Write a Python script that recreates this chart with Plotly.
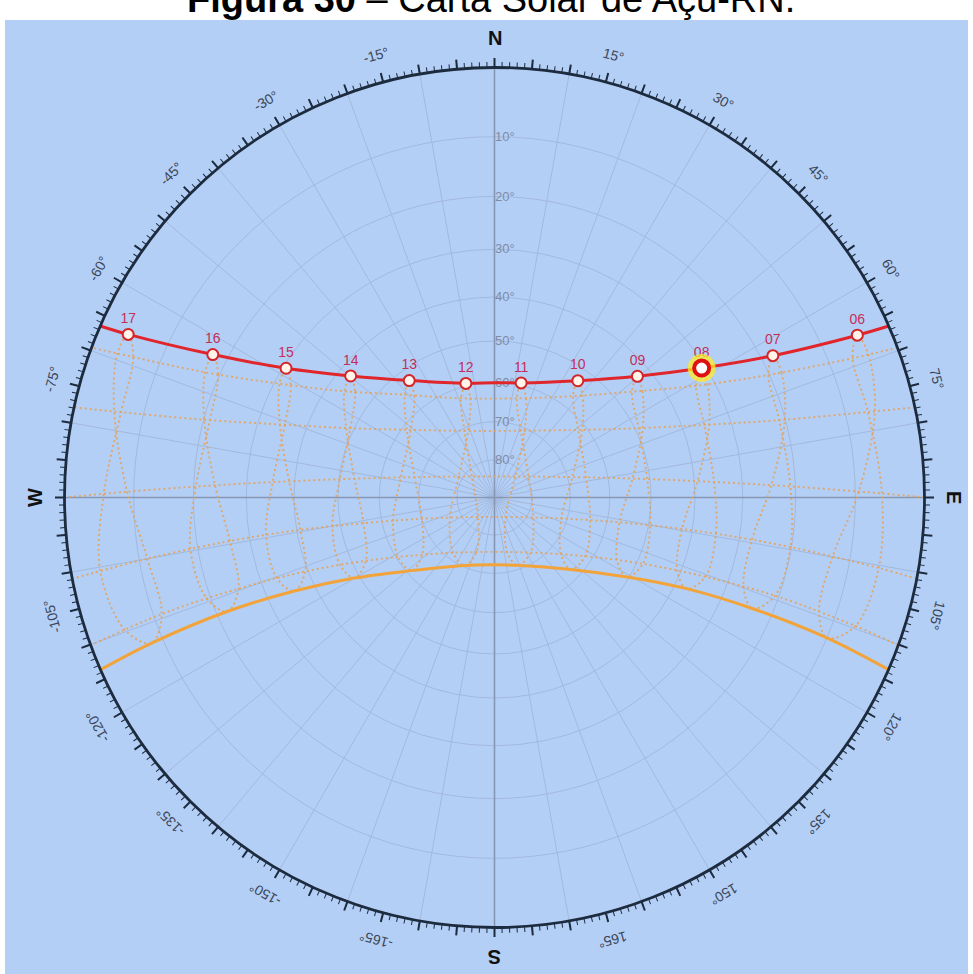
import math
import plotly.graph_objects as go

# ---------------- figure geometry (pixels) ----------------
W, H = 973, 974
CX, CY, R = 494.5, 497.5, 430.0   # centre and radius of the horizon circle

BG = "#b4cff6"
GRID = "#a3b9dc"
RING = "#1d2b3e"
AXIS = "#8796b2"
RED = "#e0262b"
ORANGE = "#f2a33a"
DOTS = "rgba(228,162,90,0.9)"
HOUR_TXT = "#c2305a"
FONT = "Liberation Sans, Arial, sans-serif"

# ---------------- data ----------------
HOURS = ["06", "07", "08", "09", "10", "11", "12", "13", "14", "15", "16", "17"]
CURRENT_HOUR = "08"

# Sun azimuth (deg, clockwise from N, E positive) and altitude (deg) at each clock hour
JUN_AZ = [65.9, 63.0, 58.0, 49.7, 35.5, 13.1, -14.1, -36.1, -49.8, -58.2, -63.1, -66.0]
JUN_ALT = [4.5, 18.0, 30.8, 42.9, 53.1, 59.4, 59.4, 52.8, 42.7, 30.6, 17.4, 4.0]
JUL_AZ = [69.05, 66.5, 61.9, 54.3, 40.6, 17.65, -13.7, -38.3, -52.8, -61.2, -66.0, -68.8]
JUL_ALT = [4.1, 17.9, 31.4, 44.1, 55.1, 62.8, 63.3, 56.5, 45.7, 33.2, 19.75, 5.96]
AUG_AZ = [77.25, 75.0, 71.2, 64.9, 52.35, 24.3, -21.6, -51.1, -64.3, -70.9, -74.8, -77.1]
AUG_ALT = [5.6, 20.1, 34.4, 48.3, 61.1, 70.7, 71.05, 61.9, 49.2, 35.4, 21.1, 6.6]
SEP_AZ = [89.06, 87.45, 85.4, 82.2, 75.4, 44.6, -59.7, -77.9, -83.25, -86.0, -87.9, -89.45]
SEP_ALT = [9.45, 24.4, 39.3, 54.1, 68.8, 82.1, 79.0, 64.9, 50.2, 35.3, 20.4, 5.47]
OCT_AZ = [99.9, 99.3, 99.55, 101.4, 107.4, 150.5, -114.4, -102.8, -100.0, -99.3, -99.6, -100.5]
OCT_ALT = [12.8, 27.5, 42.3, 57.0, 71.5, 84.0, 77.0, 62.8, 48.1, 33.4, 18.7, 4.0]
NOV_AZ = [109.3, 109.7, 111.8, 117.3, 130.4, 167.0, -143.2, -121.6, -113.7, -110.4, -109.3, -109.7]
NOV_ALT = [12.7, 26.8, 40.8, 54.4, 67.0, 75.2, 71.75, 60.5, 47.2, 33.3, 19.3, 5.2]
DEC_AZ = [112.9, 113.3, 115.4, 121.0, 133.3, 161.3, -156.2, -131.3, -119.9, -115.05, -113.1, -113.0]
DEC_ALT = [10.0, 23.75, 37.4, 50.5, 62.6, 71.1, 70.4, 61.1, 48.8, 35.6, 21.9, 8.2]
JAN_AZ = [109.6, 109.3, 110.6, 114.1, 122.9, 146.9, -161.8, -128.35, -116.2, -111.35, -109.6, -109.3]
JAN_ALT = [6.6, 20.7, 34.7, 48.6, 61.8, 72.6, 74.8, 65.8, 53.1, 39.4, 25.4, 11.3]
FEB_AZ = [100.4, 99.5, 99.3, 100.1, 103.3, 117.25, -139.7, -106.3, -101.1, -99.45, -99.35, -100.0]
FEB_ALT = [5.5, 20.2, 34.9, 49.6, 64.25, 78.4, 83.2, 70.0, 55.5, 40.8, 26.1, 11.3]
MAR_AZ = [89.4, 87.85, 85.95, 83.1, 77.6, 58.4, -47.1, -75.7, -82.35, -85.5, -87.5, -89.1]
MAR_ALT = [5.97, 20.9, 35.8, 50.65, 65.4, 79.4, 81.8, 68.3, 53.6, 38.8, 23.9, 8.96]
APR_AZ = [77.1, 74.8, 70.9, 64.3, 51.1, 21.6, -24.3, -52.35, -64.9, -71.2, -75.0, -77.25]
APR_ALT = [6.6, 21.1, 35.4, 49.2, 61.9, 71.05, 70.7, 61.1, 48.3, 34.4, 20.1, 5.6]
MAY_AZ = [68.75, 65.9, 61.0, 52.4, 37.8, 12.66, -18.6, -41.1, -54.7, -62.1, -66.6, -69.1]
MAY_ALT = [6.43, 20.2, 33.6, 46.06, 56.8, 63.4, 62.63, 54.8, 43.7, 31.0, 17.5, 3.6]

# azimuth where each path meets the horizon, and noon altitude of the two solstice paths
JUN_RISE_AZ, JUN_NOON_ALT = 66.5, 60.1
DEC_RISE_AZ, DEC_NOON_ALT = 113.6, 72.2
DATE_LINE_RISE_AZ = [110.1, 100.9, 90.0, 77.9, 69.6]   # Jan, Feb, Mar, Apr, May rows

ALT_RINGS = [10, 20, 30, 40, 50, 60, 70, 80]
AZ_LABELS = [15, 30, 45, 60, 75, 105, 120, 135, 150, 165,
             -15, -30, -45, -60, -75, -105, -120, -135, -150, -165]
COMPASS = [("N", 0), ("E", 90), ("S", 180), ("W", -90)]
TITLE = "<b>Figura 30</b> – Carta Solar de Açu-RN."


def sr(alts):
    """stereographic radial coordinate (horizon = 1)"""
    return [math.tan(math.radians(90.0 - a) / 2.0) for a in alts]


fig = go.Figure()
common = dict(hoverinfo="skip", showlegend=False)

# N-S and E-W axes
for th in ([0, 180], [90, 270]):
    fig.add_trace(go.Scatterpolar(r=[1, 1], theta=th, mode="lines",
                                  line=dict(color=AXIS, width=1.6), **common))

dotted = dict(color=DOTS, width=1.9, dash="2px,3px", shape="spline", smoothing=1.0)

# monthly date lines
rows = [(JAN_AZ, JAN_ALT), (FEB_AZ, FEB_ALT), (MAR_AZ, MAR_ALT), (APR_AZ, APR_ALT), (MAY_AZ, MAY_ALT)]
for (az, alt), rise in zip(rows, DATE_LINE_RISE_AZ):
    fig.add_trace(go.Scatterpolar(theta=[rise] + az + [-rise], r=sr([0] + alt + [0]),
                                  mode="lines", line=dotted, **common))

# hour lines (analemmas)
loop = [(JUN_AZ, JUN_ALT), (JUL_AZ, JUL_ALT), (AUG_AZ, AUG_ALT), (SEP_AZ, SEP_ALT),
        (OCT_AZ, OCT_ALT), (NOV_AZ, NOV_ALT), (DEC_AZ, DEC_ALT), (JAN_AZ, JAN_ALT),
        (FEB_AZ, FEB_ALT), (MAR_AZ, MAR_ALT), (APR_AZ, APR_ALT), (MAY_AZ, MAY_ALT),
        (JUN_AZ, JUN_ALT)]
for i in range(len(HOURS)):
    th = [m[0][i] for m in loop]
    al = [m[1][i] for m in loop]
    fig.add_trace(go.Scatterpolar(theta=th, r=sr(al), mode="lines", line=dotted, **common))

# December solstice path
fig.add_trace(go.Scatterpolar(
    theta=[DEC_RISE_AZ] + DEC_AZ[:6] + [180] + DEC_AZ[6:] + [-DEC_RISE_AZ],
    r=sr([0] + DEC_ALT[:6] + [DEC_NOON_ALT] + DEC_ALT[6:] + [0]),
    mode="lines", line=dict(color=ORANGE, width=3, shape="spline"), **common))

# current day path (June)
fig.add_trace(go.Scatterpolar(
    theta=[JUN_RISE_AZ] + JUN_AZ[:6] + [0] + JUN_AZ[6:] + [-JUN_RISE_AZ],
    r=sr([0] + JUN_ALT[:6] + [JUN_NOON_ALT] + JUN_ALT[6:] + [0]),
    mode="lines", line=dict(color=RED, width=3, shape="spline"), **common))

# hour markers
fig.add_trace(go.Scatterpolar(
    theta=JUN_AZ, r=sr(JUN_ALT), mode="markers+text", text=HOURS, textposition="top center",
    textfont=dict(color=HOUR_TXT, size=14, family=FONT),
    marker=dict(size=11, color="#fff3ea", line=dict(color="#d3262a", width=2)), **common))

ci = HOURS.index(CURRENT_HOUR)
fig.add_trace(go.Scatterpolar(theta=[JUN_AZ[ci]], r=sr([JUN_ALT[ci]]), mode="markers",
                              marker=dict(size=28, color="rgba(255,236,40,0.75)"), **common))
fig.add_trace(go.Scatterpolar(theta=[JUN_AZ[ci]], r=sr([JUN_ALT[ci]]), mode="markers",
                              marker=dict(size=15, color="#ffffff", line=dict(color="#e01010", width=4)),
                              **common))

# invisible traces so that the tick-only overlays are drawn
for sp in ("polar2", "polar3"):
    fig.add_trace(go.Scatterpolar(r=[0], theta=[0], mode="markers", marker=dict(opacity=0),
                                  subplot=sp, **common))

dom = dict(x=[(CX - R) / W, (CX + R) / W], y=[1 - (CY + R) / H, 1 - (CY - R) / H])
ang_base = dict(rotation=90, direction="clockwise", tickmode="array")

fig.update_layout(
    width=W, height=H, margin=dict(l=0, r=0, t=0, b=0),
    paper_bgcolor="white", showlegend=False,
    polar=dict(
        domain=dom, bgcolor=BG,
        angularaxis=dict(**ang_base, tickvals=list(range(0, 360, 10)), showticklabels=False,
                         ticks="", showgrid=True, gridcolor=GRID, gridwidth=1,
                         showline=True, linecolor=RING, linewidth=2.8),
        radialaxis=dict(range=[0, 1], tickmode="array", tickvals=sr(ALT_RINGS),
                        ticktext=[f"{a}°" for a in ALT_RINGS], showgrid=True, gridcolor=GRID,
                        gridwidth=1, showline=False, ticks="", angle=90, tickangle=90,
                        layer="below traces",
                        tickfont=dict(color="#7e8ca6", size=13, family=FONT)),
    ),
    polar2=dict(
        domain=dom, bgcolor="rgba(0,0,0,0)",
        angularaxis=dict(**ang_base, tickvals=list(range(0, 360, 1)), ticks="outside", ticklen=5,
                         tickwidth=1, tickcolor=RING, showticklabels=False, showgrid=False,
                         showline=False),
        radialaxis=dict(visible=False, range=[0, 1]),
    ),
    polar3=dict(
        domain=dom, bgcolor="rgba(0,0,0,0)",
        angularaxis=dict(**ang_base, tickvals=list(range(0, 360, 5)), ticks="outside", ticklen=9,
                         tickwidth=1.5, tickcolor=RING, showticklabels=False, showgrid=False,
                         showline=False),
        radialaxis=dict(visible=False, range=[0, 1]),
    ),
    shapes=[dict(type="rect", xref="paper", yref="paper", x0=5 / W, x1=968 / W, y0=0,
                 y1=1 - 20 / H, fillcolor=BG, line=dict(width=0), layer="below")],
)

annotations = []
RL = 458.0
for v in AZ_LABELS:
    a = math.radians(v)
    annotations.append(dict(x=(CX + RL * math.sin(a)) / W, y=1 - (CY - RL * math.cos(a)) / H,
                            xref="paper", yref="paper", xanchor="center", yanchor="middle",
                            text=f"{v}°", showarrow=False, textangle=v,
                            font=dict(size=14, color="#3b4656", family=FONT)))
RC = 460.0
for lab, v in COMPASS:
    a = math.radians(v)
    annotations.append(dict(x=(CX + RC * math.sin(a)) / W, y=1 - (CY - RC * math.cos(a)) / H,
                            xref="paper", yref="paper", xanchor="center", yanchor="middle",
                            text=f"<b>{lab}</b>", showarrow=False, textangle=v,
                            font=dict(size=20, color="#111111", family=FONT)))
annotations.append(dict(x=491 / W, y=1 - 21 / H, xref="paper", yref="paper", xanchor="center",
                        yanchor="bottom", text=TITLE, showarrow=False, borderpad=0,
                        font=dict(size=38, color="black", family=FONT)))
fig.update_layout(annotations=annotations)

fig.write_html("out.html", config={"displayModeBar": False},
               post_script="document.body.style.margin='0';")
